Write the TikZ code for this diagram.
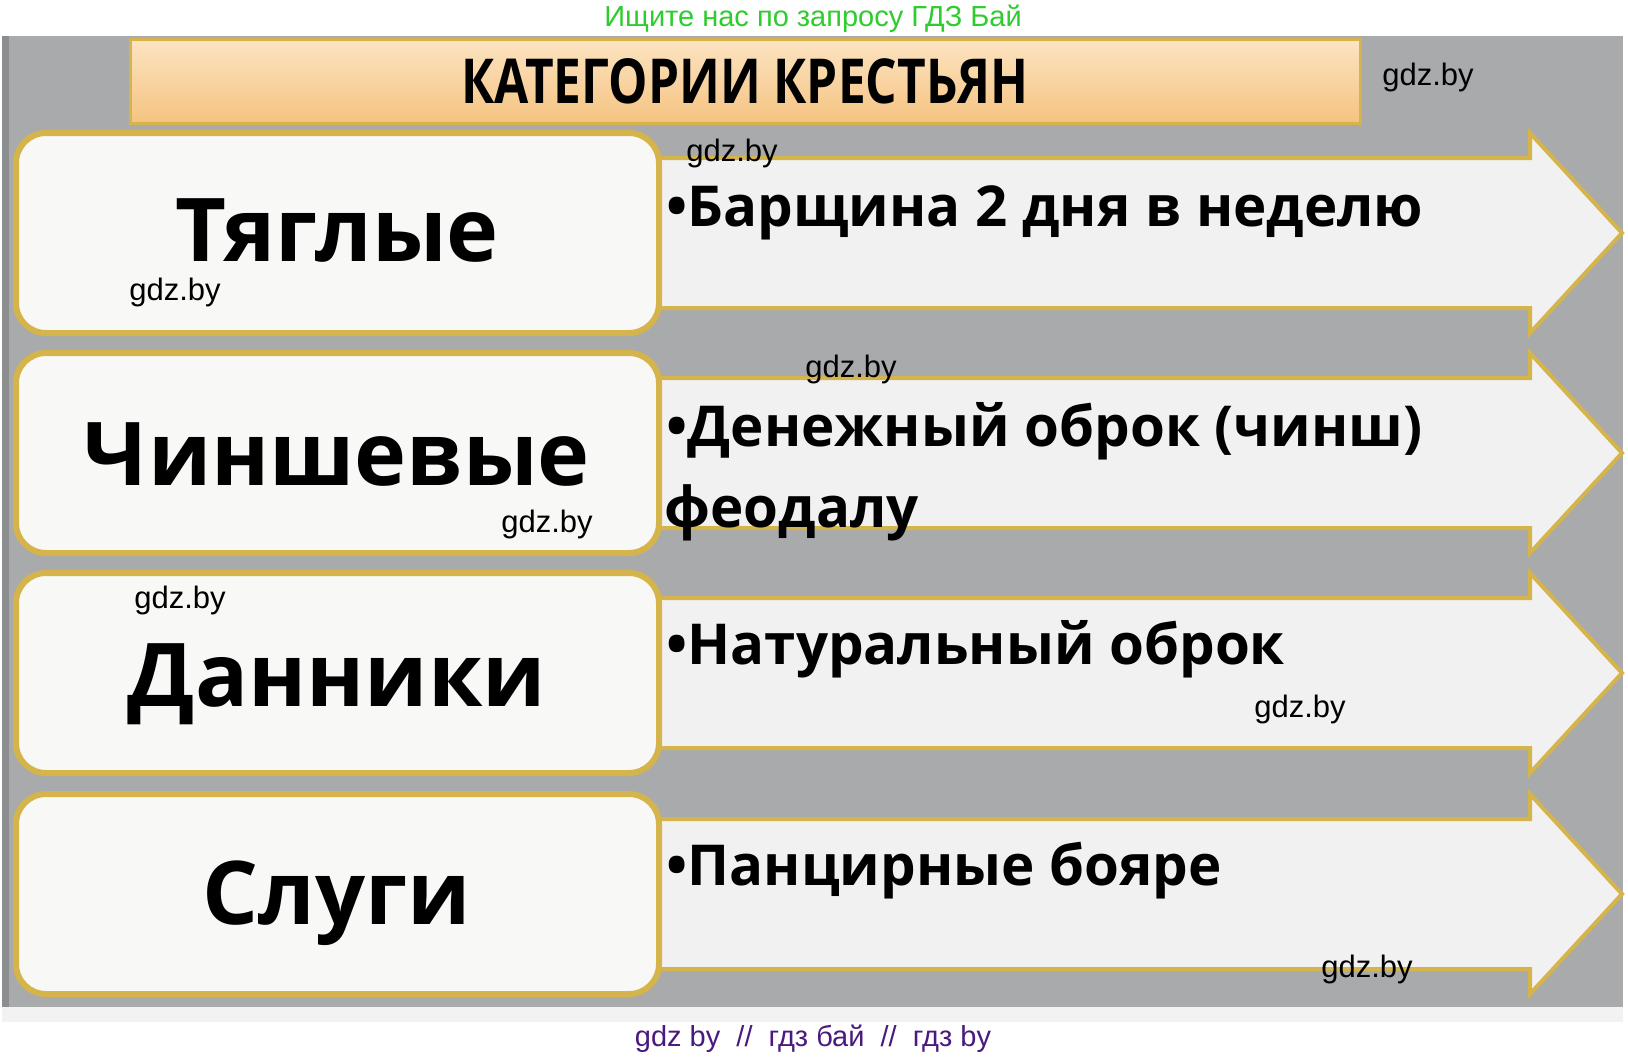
\documentclass[tikz,border=0pt]{standalone}
\usepackage{fontspec}
\setmainfont{Open Sans}
\newfontfamily\markfont{Liberation Sans}
\newfontfamily\headfont[FakeStretch=0.8]{Open Sans}
\usetikzlibrary{positioning}
\definecolor{panelgray}{HTML}{A9AAAC}
\definecolor{paneledge}{HTML}{8C8D8F}
\definecolor{goldline}{HTML}{D6B44C}
\definecolor{boxwhite}{HTML}{F8F8F6}
\definecolor{arrowwhite}{HTML}{F1F1F1}
\definecolor{peachtop}{HTML}{FCE4C2}
\definecolor{peachbot}{HTML}{F5C381}
\definecolor{searchgreen}{HTML}{2ECC2E}
\definecolor{footviolet}{HTML}{4A1A7E}
\tikzset{
	catbox/.style={draw=goldline,line width=3pt,fill=boxwhite,rounded corners=15pt},
	duty arrow/.style={draw=goldline,line width=2pt,fill=arrowwhite,line join=miter},
	catlabel/.style={font=\fontsize{44}{48}\selectfont\bfseries,inner sep=0pt},
	duty/.style={font=\fontsize{28.2}{38}\selectfont\bfseries,inner sep=0pt},
	wmark/.style={font=\markfont\fontsize{15.5}{18}\selectfont,inner sep=0pt}
}

\begin{document}
\begin{tikzpicture}[x=0.5pt,y=-0.5pt]
		\useasboundingbox (0,0) rectangle (1628,1057);
		% background panel
		\fill[white] (0,0) rectangle (1628,1057);
		\fill[black!5] (2,1007) rectangle (1623,1022);
		\fill[panelgray] (2,36) rectangle (1623,1007);
		\fill[paneledge] (2,36) rectangle (9,1007);
		% title
		\node[draw=goldline,line width=1.5pt,top color=peachtop,bottom color=peachbot,
			minimum width=615pt,minimum height=42pt,inner sep=0pt] (title) at (745,81)
			{\headfont\fontsize{31}{34}\selectfont\bfseries КАТЕГОРИИ КРЕСТЬЯН};
		% arrows
		\foreach \c in {233,453,673,894}
			\draw[duty arrow] (600,\c-75) -- (1530,\c-75) -- (1530,\c-100) -- (1622,\c)
				-- (1530,\c+100) -- (1530,\c+75) -- (600,\c+75) -- cycle;
		% category boxes
		\draw[catbox] (16,133) rectangle (659,333);
		\draw[catbox] (16,353) rectangle (659,553);
		\draw[catbox] (16,573) rectangle (659,773);
		\draw[catbox] (16,794) rectangle (659,994);
		\node[catlabel,anchor=base] (tyag) at (337,261) {Тяглые};
		\node[catlabel,anchor=base] (chinsh) at (337,485) {Чиншевые};
		\node[catlabel,anchor=base] (dann) at (337,706) {Данники};
		\node[catlabel,anchor=base] (slugi) at (337,924) {Слуги};
		% duties
		\node[duty,anchor=base west] (barsh) at (666,226) {•Барщина 2 дня в неделю};
		\node[duty,anchor=base west] (obrok) at (666,446) {•Денежный оброк (чинш)};
		\node[duty,anchor=base west] (feod) at (664,527) {феодалу};
		\node[duty,anchor=base west] (natur) at (666,664) {•Натуральный оброк};
		\node[duty,anchor=base west] (panc) at (666,885) {•Панцирные бояре};
		% watermarks
		\node[wmark] (w1) at (1428,77) {gdz.by};
		\node[wmark] (w2) at (732,153) {gdz.by};
		\node[wmark] (w3) at (175,292) {gdz.by};
		\node[wmark] (w4) at (851,369) {gdz.by};
		\node[wmark] (w5) at (547,524) {gdz.by};
		\node[wmark] (w6) at (180,600) {gdz.by};
		\node[wmark] (w7) at (1300,709) {gdz.by};
		\node[wmark] (w8) at (1367,969) {gdz.by};
		\node[wmark,text=searchgreen,font=\markfont\fontsize{14.5}{17}\selectfont,anchor=base] (search) at (813,26) {Ищите нас по запросу ГДЗ Бай};
		\node[wmark,text=footviolet,font=\markfont\fontsize{14.5}{17}\selectfont,anchor=base] (foot) at (813,1046) {gdz by~ //~ гдз бай~ //~ гдз by};
	\end{tikzpicture}
\end{document}
